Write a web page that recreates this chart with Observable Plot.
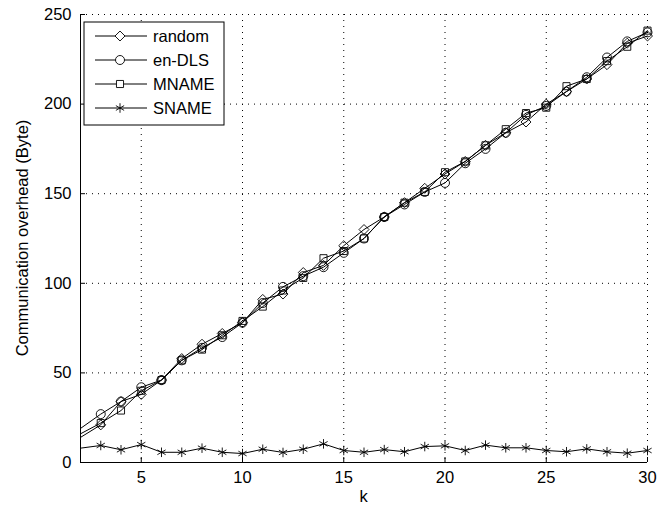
<!DOCTYPE html>
<html>
<head>
<meta charset="utf-8">
<script src="https://cdn.jsdelivr.net/npm/d3@7"></script>
<script src="https://cdn.jsdelivr.net/npm/@observablehq/plot@0.6"></script>
<style>
  html, body { margin: 0; padding: 0; background: #fff; }
  #chart { width: 668px; height: 512px; }
  svg { font-family: "Liberation Sans", Arial, Helvetica, sans-serif; }
</style>
</head>
<body>
<div id="chart"></div>
<script>
// k = 2 carries only the line start at the left edge (no marker there in the original)
const k = [2,3,4,5,6,7,8,9,10,11,12,13,14,15,16,17,18,19,20,21,22,23,24,25,26,27,28,29,30];
const random = [14,21,34,38,46,58,66,72,78,91,94,106,110,121,130,137,145,153,161,168,177,184,190,200,207,214,222,234,238];
const enDLS  = [19,27,34,42,46,57,64,70,78,89,98,104,109,117,125,137,144,151,156,167,175,184,194,199,207,215,226,235,240];
const MNAME  = [16,22,29,40,46,57,63,71,79,87,96,103,114,118,125,137,145,151,162,168,177,186,195,198,210,214,224,232,241];
const SNAME  = [8,9.5,7.1,10,5.7,5.7,8,5.7,5,7.4,5.6,7.4,10.4,6.7,5.7,7.2,6,8.9,9.3,6.7,9.7,8.2,8.2,6.7,6,7.6,6,5.2,6.7];
const seriesNames = ["random","en-DLS","MNAME","SNAME"];
const seriesValues = [random, enDLS, MNAME, SNAME];
const symbols = ["diamond2","circle","square2","asterisk"];
const xTicks = [5,10,15,20,25,30];
const yTicks = [0,50,100,150,200,250];
const firstMarkerK = 3;

const data = [];
seriesNames.forEach((name, i) => {
  k.forEach((kv, j) => data.push({k: kv, v: seriesValues[i][j], series: name}));
});

const W = 668, H = 512;
const mL = 80, mR = 21, mT = 14, mB = 50;
const font = "Liberation Sans, Arial, Helvetica, sans-serif";

const dotMarks = seriesNames.map((name, i) =>
  Plot.dot(data.filter(d => d.series === name && d.k >= firstMarkerK), {
    x: "k", y: "v", symbol: () => symbols[i], r: 4.5,
    stroke: "#000", strokeWidth: 0.9, fill: "none"
  })
);

const chart = Plot.plot({
  width: W, height: H,
  marginLeft: mL, marginRight: mR, marginTop: mT, marginBottom: mB,
  style: {fontFamily: font, fontSize: "16px", background: "#fff", color: "#000"},
  x: {domain: [2, 30], ticks: xTicks, label: null},
  y: {domain: [0, 250], ticks: yTicks, label: null},
  symbol: {type: "identity"},
  marks: [
    Plot.gridX(xTicks, {stroke: "#000", strokeOpacity: 1, strokeWidth: 1, strokeDasharray: "1,5"}),
    Plot.gridY(yTicks, {stroke: "#000", strokeOpacity: 1, strokeWidth: 1, strokeDasharray: "1,5"}),
    Plot.axisX(xTicks, {tickSize: -5, tickPadding: 14, fontSize: 16.5, stroke: "#000"}),
    Plot.axisY(yTicks, {tickSize: -5, tickPadding: 14, fontSize: 16.5, stroke: "#000"}),
    Plot.ruleY([0], {stroke: "#000", strokeWidth: 1}),
    Plot.ruleX([2], {stroke: "#000", strokeWidth: 1}),
    Plot.line(data, {x: "k", y: "v", z: "series", stroke: "#000", strokeWidth: 1}),
    ...dotMarks
  ]
});

const svg = d3.select(chart);

// axis titles
svg.append("text")
  .attr("x", (mL + W - mR) / 2).attr("y", 502)
  .attr("text-anchor", "middle").attr("font-size", 16.5).attr("font-family", font)
  .text("k");
svg.append("text")
  .attr("transform", `translate(22,${(mT + H - mB) / 2}) rotate(-90)`)
  .attr("text-anchor", "middle").attr("font-size", 16.5).attr("font-family", font)
  .attr("dy", "0.35em")
  .text("Communication overhead (Byte)");

// legend
const lg = svg.append("g").attr("transform", "translate(84,22)");
lg.append("rect").attr("width", 140).attr("height", 103)
  .attr("fill", "#fff").attr("stroke", "#000").attr("stroke-width", 1);
const d3sym = {diamond2: d3.symbolDiamond2, circle: d3.symbolCircle, square2: d3.symbolSquare2, asterisk: d3.symbolAsterisk};
seriesNames.forEach((name, i) => {
  const y = 14 + i * 24;
  const g = lg.append("g").attr("transform", `translate(0,${y})`);
  g.append("line").attr("x1", 11).attr("x2", 63).attr("y1", 0).attr("y2", 0)
    .attr("stroke", "#000").attr("stroke-width", 1);
  g.append("path").attr("d", d3.symbol(d3sym[symbols[i]], Math.PI * 4.5 * 4.5)())
    .attr("transform", "translate(36,0)")
    .attr("fill", "#fff").attr("stroke", "#000").attr("stroke-width", 0.9);
  g.append("text").attr("x", 69).attr("y", 0).attr("dy", "0.35em")
    .attr("text-anchor", "start")
    .attr("font-size", 16.5).attr("font-family", font).text(name);
});

document.getElementById("chart").appendChild(chart);
</script>
</body>
</html>
